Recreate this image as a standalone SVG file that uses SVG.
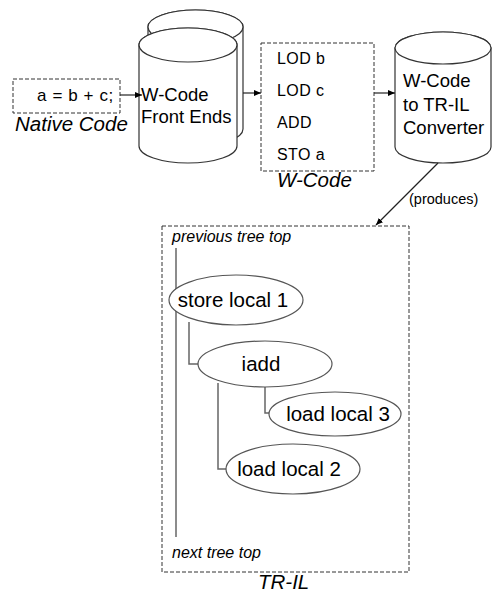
<svg xmlns="http://www.w3.org/2000/svg" width="493" height="592" viewBox="0 0 493 592">
  <defs>
    <marker id="arr" markerWidth="8" markerHeight="8" refX="7" refY="4" orient="auto" markerUnits="userSpaceOnUse">
      <path d="M0,1 L7,4 L0,7 Z" fill="#000"/>
    </marker>
  </defs>
  <style>
    text { font-family: "Liberation Sans", Arial, sans-serif; fill: #000; }
    .dash { fill: #fff; stroke: #333; stroke-width: 1; stroke-dasharray: 4 2; }
    .cyl { fill: #fff; stroke: #333; stroke-width: 1.2; }
    .node { fill: #fff; stroke: #555; stroke-width: 1.2; }
    .tree { fill: none; stroke: #666; stroke-width: 1.5; }
    .conn { fill: none; stroke: #222; stroke-width: 1.2; marker-end: url(#arr); }
    .lbl { font-size: 20.5px; font-style: italic; }
    .code { font-size: 16px; letter-spacing: 0.4px; }
    .src { font-size: 17px; letter-spacing: 0.6px; }
    .big { font-size: 18.5px; }
    .nd { font-size: 20.5px; }
    .small { font-size: 16px; font-style: italic; }
  </style>

  <rect width="493" height="592" fill="#fff"/>

  <g id="native-code">
    <rect class="dash" x="13" y="79" width="107" height="34"/>
    <text class="src" x="37" y="101">a = b + c;</text>
    <text class="lbl" x="15" y="131">Native Code</text>
  </g>

  <g id="front-ends">
    <!-- rear cylinder -->
    <path class="cyl" d="M148,27 L148,129 A47.5,17 0 0 0 243,129 L243,27 A47.5,17 0 0 0 148,27 Z"/>
    <ellipse class="cyl" cx="195.5" cy="27" rx="47.5" ry="17"/>
    <!-- front cylinder -->
    <path class="cyl" d="M139,45 L139,146 A49,17 0 0 0 237,146 L237,45 A49,17 0 0 0 139,45 Z"/>
    <ellipse class="cyl" cx="188" cy="45" rx="49" ry="17"/>
    <text class="big" x="141" y="101">W-Code</text>
    <text class="big" x="141" y="123">Front Ends</text>
  </g>

  <g id="w-code">
    <rect class="dash" x="261" y="43" width="113" height="128"/>
    <text class="code" x="277" y="64">LOD b</text>
    <text class="code" x="277" y="96">LOD c</text>
    <text class="code" x="277" y="128">ADD</text>
    <text class="code" x="277" y="160">STO a</text>
    <text class="lbl" x="277" y="187">W-Code</text>
  </g>

  <g id="converter">
    <path class="cyl" d="M395,48 L395,147 A48,16 0 0 0 491,147 L491,48 A48,16 0 0 0 395,48 Z"/>
    <ellipse class="cyl" cx="443" cy="48" rx="48" ry="16"/>
    <text class="big" x="403" y="87">W-Code</text>
    <text class="big" x="403" y="111">to TR-IL</text>
    <text class="big" x="403" y="134">Converter</text>
  </g>

  <g id="tr-il">
    <rect class="dash" x="162" y="226" width="247" height="346"/>
    <text class="small" x="172" y="242">previous tree top</text>
    <text class="small" x="172" y="558">next tree top</text>
    <text class="lbl" x="258" y="589">TR-IL</text>
  </g>

  <g id="connectors">
    <line class="conn" x1="120" y1="95" x2="142" y2="95"/>
    <line class="conn" x1="243" y1="93" x2="261" y2="93"/>
    <line class="conn" x1="374" y1="93" x2="395" y2="93"/>
    <line class="conn" x1="438" y1="163" x2="376" y2="225"/>
    <text x="409" y="204" font-size="14.5" fill="#333">(produces)</text>
    <!-- tree links -->
    <line class="tree" x1="176" y1="248" x2="176" y2="537"/>
    <polyline class="tree" points="189,322 189,364 198,364"/>
    <polyline class="tree" points="218,383 218,469 227,469"/>
    <polyline class="tree" points="265,384 265,413 270,413"/>
  </g>

  <g id="store-local-1">
    <ellipse class="node" cx="236" cy="300" rx="67" ry="25"/>
    <text class="nd" x="233" y="307" text-anchor="middle">store local 1</text>
  </g>
  <g id="iadd">
    <ellipse class="node" cx="265" cy="364" rx="67" ry="23"/>
    <text class="nd" x="261" y="371" text-anchor="middle">iadd</text>
  </g>
  <g id="load-local-3">
    <ellipse class="node" cx="335" cy="414" rx="66" ry="22"/>
    <text class="nd" x="338" y="421" text-anchor="middle">load local 3</text>
  </g>
  <g id="load-local-2">
    <ellipse class="node" cx="293" cy="469" rx="67" ry="25"/>
    <text class="nd" x="289" y="476" text-anchor="middle">load local 2</text>
  </g>
</svg>
